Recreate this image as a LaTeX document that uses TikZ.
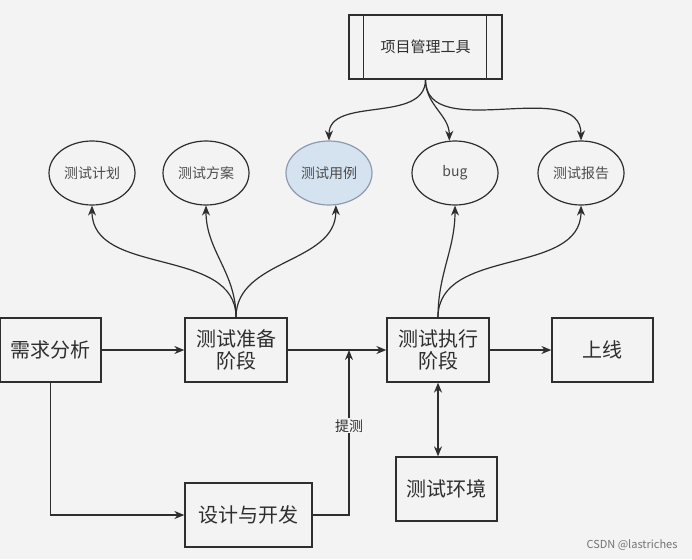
\documentclass[tikz,border=0pt]{standalone}
\usepackage{fontspec}
\setmainfont{Noto Sans CJK SC}
\usepackage{xcolor}
\usepackage{tikz}
\usetikzlibrary{arrows.meta,positioning,calc,shapes.geometric}
\definecolor{bgc}{HTML}{F3F3F3}
\definecolor{inkc}{HTML}{2E2E2E}
\definecolor{casec}{HTML}{D5E2F0}
\definecolor{casel}{HTML}{8E9BAC}
\tikzset{
  pbox/.style={draw=inkc, fill=bgc, line width=1.3pt, align=center, inner sep=0pt, minimum width=101pt, minimum height=64pt, text=inkc, font=\fontsize{20}{22}\selectfont},
  obox/.style={ellipse, draw=inkc, fill=bgc, line width=1.2pt, inner sep=0pt, minimum width=86pt, minimum height=64pt, text=inkc!85, font=\fontsize{14}{16}\selectfont},
  tbox/.style={draw=inkc, fill=bgc, line width=1.2pt, inner sep=0pt, minimum width=153pt, minimum height=64pt, text=inkc, font=\fontsize{15}{17}\selectfont},
  flow/.style={-{Stealth[length=10pt,width=8pt]}, line width=1.2pt, draw=inkc},
  both/.style={{Stealth[length=10pt,width=8pt]}-{Stealth[length=10pt,width=8pt]}, line width=1.2pt, draw=inkc},
}

\begin{document}
\begin{tikzpicture}[x=1pt,y=-1pt,>=Stealth]
  \fill[bgc] (0,0) rectangle (692,559);
  \useasboundingbox (0,0) rectangle (692,559);
  % tool and outputs
  \node[tbox] (pm) at (425.5,47) {项目管理工具};
  \draw[inkc, line width=1.2pt] ([xshift=15pt]pm.north west) -- ([xshift=15pt]pm.south west)
                                ([xshift=-16pt]pm.north east) -- ([xshift=-16pt]pm.south east);
  \node[obox] (plan)   at (92,173)  {测试计划};
  \node[obox] (scheme) at (206,173) {测试方案};
  \node[obox, fill=casec, draw=casel] (case) at (329,173) {测试用例};
  \node[obox] (bug)    at (455,173) {bug};
  \node[obox] (report) at (581,173) {测试报告};
  % stages
  \node[pbox] (req)    at (50.5,350)  {需求分析};
  \node[pbox, minimum width=102pt] (prep) at (236,350) {测试准备\\阶段};
  \node[pbox, minimum width=102pt] (exec) at (438,350) {测试执行\\阶段};
  \node[pbox] (online) at (602.5,350) {上线};
  \node[pbox] (env)    at (446.5,489) {测试环境};
  \node[pbox, minimum width=127pt] (dev) at (248.5,515) {设计与开发};
  \coordinate (join) at (349,350);
  \node[text=black!55, font=\fontsize{11}{13}\selectfont] (mark) at (632,545) {CSDN @lastriches};
  % connectors
  \draw[flow] (req)--(prep);  \draw[flow] (prep)--(exec);  \draw[flow] (exec)--(online);
  \draw[flow] (req.south) |- (dev.west);
  \draw[flow] (dev.east) -| node[pos=0.77, fill=bgc, inner sep=1pt, text=inkc, font=\fontsize{14}{16}\selectfont] (tice) {提测} (join);
  \draw[both] (exec.south) -- (exec.south |- env.north);
  \draw[flow] (prep.north) to[out=90,in=-90] (plan.south);
  \draw[flow] (prep.north) to[out=90,in=-90] (scheme.south);
  \draw[flow] (prep.north) to[out=90,in=-90] (case.-78);
  \draw[flow] (exec.north) to[out=90,in=-90] (bug.south);
  \draw[flow] (exec.north) to[out=90,in=-90] (report.south);
  \draw[flow] (pm.south) to[out=-90,in=90] (case.north);
  \draw[flow] (pm.south) to[out=-90,in=90] (bug.100);
  \draw[flow] (pm.south) to[out=-90,in=90] (report.north);
\end{tikzpicture}
\end{document}
